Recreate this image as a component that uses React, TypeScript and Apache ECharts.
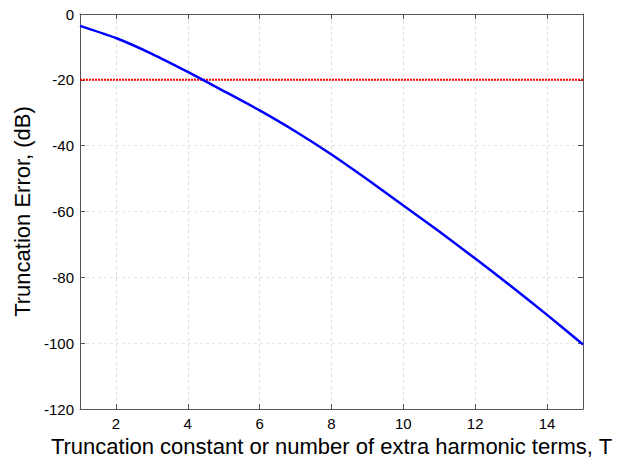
import React, { useEffect, useRef } from "react";
import * as echarts from "echarts";

const tValues = [1, 2, 3, 4, 5, 6, 7, 8, 9, 10, 11, 12, 13, 14, 15];
const errorDb = [-3.6, -7.3, -12.1, -17.6, -23.4, -29.3, -35.7, -42.7, -50.3, -58.2, -66.1, -74.3, -82.7, -91.4, -100.4];
const thresholdDb = -20;
const xTicks = [2, 4, 6, 8, 10, 12, 14];

export default function App() {
  const ref = useRef<HTMLDivElement>(null);
  useEffect(() => {
    if (!ref.current) return;
    const chart = echarts.init(ref.current, null, { renderer: "svg" });
    const font = "Liberation Sans, Arial, sans-serif";
    const frame = "#555555";
    chart.setOption({
      animation: false,
      backgroundColor: "#ffffff",
      grid: { left: 80, top: 14, right: 42, bottom: 50, outerBoundsMode: "none", containLabel: false },
      xAxis: [
        {
          type: "value",
          min: 1,
          max: 15,
          name: "Truncation constant or number of extra harmonic terms, T",
          nameLocation: "middle",
          nameGap: 22,
          nameTextStyle: { fontFamily: font, fontSize: 22, color: "#000" },
          axisLine: { show: true, onZero: false, lineStyle: { color: frame, width: 1 } },
          axisTick: { show: true, inside: true, length: 5, customValues: xTicks, lineStyle: { color: frame } },
          axisLabel: { customValues: xTicks, fontFamily: font, fontSize: 15, color: "#000", margin: 7 },
          splitLine: { show: true, lineStyle: { color: "#dddddd", type: [3, 3], width: 1 } },
        },
        {
          type: "value",
          position: "top",
          min: 1,
          max: 15,
          axisLine: { show: true, onZero: false, lineStyle: { color: frame, width: 1 } },
          axisTick: { show: true, inside: true, length: 5, customValues: xTicks, lineStyle: { color: frame } },
          axisLabel: { show: false },
          splitLine: { show: false },
        },
      ],
      yAxis: [
        {
          type: "value",
          min: -120,
          max: 0,
          interval: 20,
          name: "Truncation Error, (dB)",
          nameLocation: "middle",
          nameGap: 42,
          nameTextStyle: { fontFamily: font, fontSize: 22, color: "#000" },
          axisLine: { show: true, onZero: false, lineStyle: { color: frame, width: 1 } },
          axisTick: { show: true, inside: true, length: 5, lineStyle: { color: frame } },
          axisLabel: { fontFamily: font, fontSize: 15, color: "#000", margin: 6 },
          splitLine: { show: true, lineStyle: { color: "#e6e6e6", type: [3, 3], width: 1 } },
        },
        {
          type: "value",
          position: "right",
          min: -120,
          max: 0,
          interval: 20,
          axisLine: { show: true, onZero: false, lineStyle: { color: frame, width: 1 } },
          axisTick: { show: true, inside: true, length: 5, lineStyle: { color: frame } },
          axisLabel: { show: false },
          splitLine: { show: false },
        },
      ],
      series: [
        {
          type: "line",
          data: [
            [tValues[0], thresholdDb],
            [tValues[tValues.length - 1], thresholdDb],
          ],
          showSymbol: false,
          lineStyle: { color: "#ff0000", width: 2, type: [2, 1] },
          z: 2,
        },
        {
          type: "line",
          data: tValues.map((t, i) => [t, errorDb[i]]),
          showSymbol: false,
          smooth: 0.2,
          lineStyle: { color: "#0000ff", width: 2.5 },
          z: 3,
        },
      ],
    });
    return () => chart.dispose();
  }, []);
  return (
    <div
      ref={ref}
      style={{ position: "fixed", left: 0, top: 0, width: 625, height: 459 }}
    />
  );
}
